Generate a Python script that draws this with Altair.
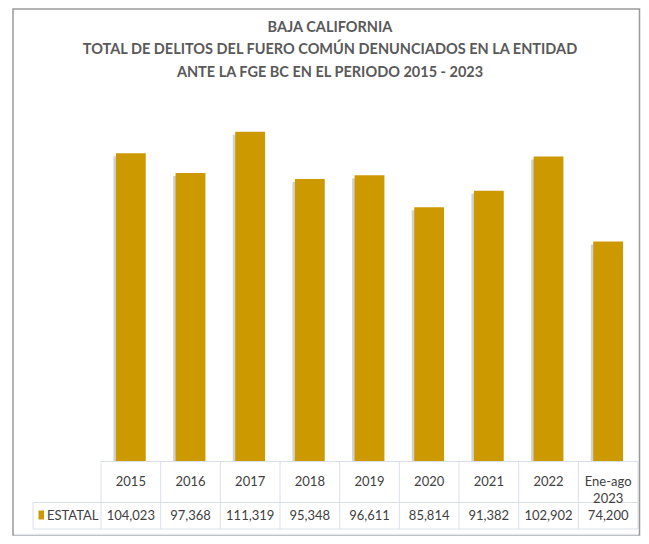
import altair as alt
import pandas as pd

# ---- data ----
years = ["2015", "2016", "2017", "2018", "2019", "2020", "2021", "2022", "Ene-ago\n2023"]
values = [104023, 97368, 111319, 95348, 96611, 85814, 91382, 102902, 74200]
value_labels = ["104,023", "97,368", "111,319", "95,348", "96,611", "85,814", "91,382", "102,902", "74,200"]
series_name = "ESTATAL"
title_lines = [
    "BAJA CALIFORNIA",
    "TOTAL DE DELITOS DEL FUERO COMÚN DENUNCIADOS EN LA ENTIDAD",
    "ANTE LA FGE BC EN EL PERIODO 2015 - 2023",
]

df = pd.DataFrame({"year": years, "value": values, "label": value_labels})

W, H = 537, 355
BAR = "#CC9900"
GRID = "#D9DEE8"
TXT = "#404040"
FONT = "Lato"

xscale = alt.Scale(paddingInner=0, paddingOuter=0)
xenc = alt.X("year:N", sort=years, scale=xscale, axis=None)
yenc = alt.Y("value:Q", scale=alt.Scale(domain=[0, 120000]), axis=None)

base = alt.Chart(df)

shadow = base.mark_bar(width=alt.RelativeBandSize(0.5), color="#7a7a7a", opacity=0.35,
                       xOffset=-2.5, yOffset=3, clip=True).encode(x=xenc, y=yenc)
bars = base.mark_bar(width=alt.RelativeBandSize(0.5), color=BAR).encode(x=xenc, y=yenc)

one = alt.Data(values=[{"k": 1}])

def hrule(x1, x2, y, color=GRID, w=1):
    return alt.Chart(one).mark_rule(color=color, strokeWidth=w).encode(
        x=alt.value(x1), x2=alt.value(x2), y=alt.value(y))

def vrule(x, y1, y2, color=GRID, w=1):
    return alt.Chart(one).mark_rule(color=color, strokeWidth=w).encode(
        x=alt.value(x), y=alt.value(y1), y2=alt.value(y2))

ROW1_TOP, ROW2_TOP, ROW2_BOT = 355.5, 396.5, 423
LEFT_CELL = -68

vlines = base.mark_rule(color=GRID).encode(
    x=alt.X("year:N", sort=years, bandPosition=0, scale=xscale, axis=None),
    y=alt.value(ROW1_TOP), y2=alt.value(ROW2_BOT))

table_lines = [
    hrule(0, W, ROW1_TOP),
    hrule(LEFT_CELL, W, ROW2_TOP),
    hrule(LEFT_CELL, W, ROW2_BOT),
    vrule(W, ROW1_TOP, ROW2_BOT),
    vrule(LEFT_CELL, ROW2_TOP, ROW2_BOT),
]

year_text = base.mark_text(font=FONT, fontSize=13, color=TXT, lineBreak="\n", baseline="middle",
                           lineHeight=17).encode(
    x=xenc, y=alt.value((ROW1_TOP + ROW2_TOP) / 2), text="year:N")
val_text = base.mark_text(font=FONT, fontSize=13, color=TXT, baseline="middle").encode(
    x=xenc, y=alt.value((ROW2_TOP + ROW2_BOT) / 2), text="label:N")

legend_key = alt.Chart(one).mark_rect(color=BAR).encode(
    x=alt.value(-62.5), x2=alt.value(-57), y=alt.value(404.5), y2=alt.value(413.5))
legend_txt = alt.Chart(alt.Data(values=[{"t": series_name}])).mark_text(
    font=FONT, fontSize=13, color=TXT, align="left", baseline="middle").encode(
    x=alt.value(-54), y=alt.value((ROW2_TOP + ROW2_BOT) / 2), text="t:N")

title_layers = []
for line, ty in zip(title_lines, [-78, -56.5, -33.5]):
    title_layers.append(
        alt.Chart(alt.Data(values=[{"t": line}])).mark_text(
            font=FONT, fontSize=14.5, fontWeight="bold", color="#595959",
            align="center", baseline="middle").encode(
            x=alt.value(229), y=alt.value(ty), text="t:N"))

frame = alt.Chart(one).mark_rect(fill="transparent", stroke="#9a9a9a", strokeWidth=1.5).encode(
    x=alt.value(-88), x2=alt.value(538.5), y=alt.value(-97), y2=alt.value(429))
frame_bottom = hrule(-87, 537.5, 428.5, color="#E3E7EF", w=1.5)

chart = alt.layer(
    shadow, bars, vlines, *table_lines, year_text, val_text, legend_key, legend_txt,
    *title_layers, frame, frame_bottom
).properties(
    width=W, height=H,
    padding={"left": 93, "top": 98, "right": 3, "bottom": 75},
    autosize=alt.AutoSizeParams(type="none"),
).configure_view(stroke=None)

chart.save("out.html", embed_options={"renderer": "svg", "actions": False})
